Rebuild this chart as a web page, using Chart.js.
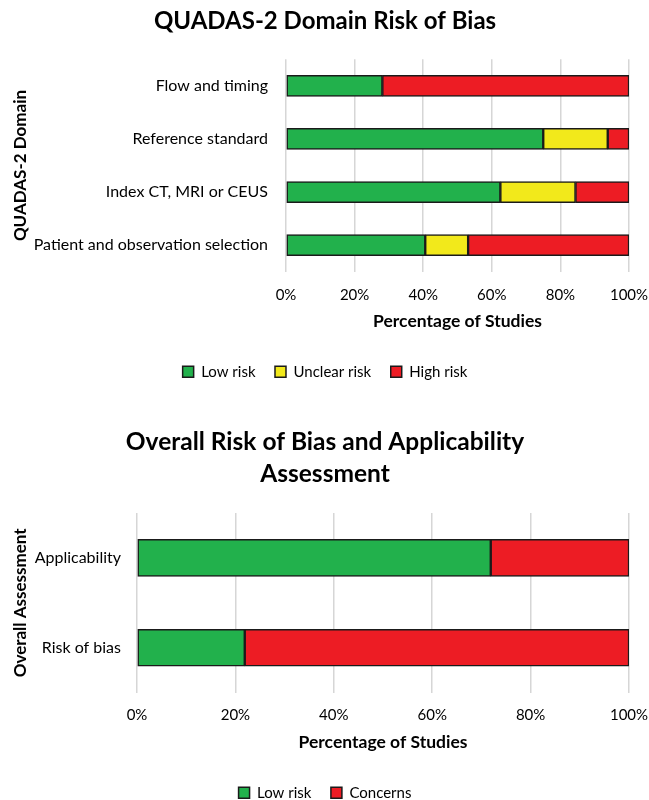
<!DOCTYPE html>
<html>
<head>
<meta charset="utf-8">
<script src="https://cdn.jsdelivr.net/npm/chart.js@4/dist/chart.umd.min.js"></script>
<style>
  html, body { margin: 0; padding: 0; background: #fff; overflow: hidden; }
  .panel { position: absolute; left: 0; width: 649px; }
  #top { top: 0; height: 400px; }
  #bottom { top: 400px; height: 411px; }
</style>
</head>
<body>
<div class="panel" id="top"><canvas id="domainChart" width="649" height="400"></canvas></div>
<div class="panel" id="bottom"><canvas id="overallChart" width="649" height="411"></canvas></div>
<script>
// QUADAS-2 domains, percentage of studies per judgement
const domainLabels = ['Flow and timing', 'Reference standard', 'Index CT, MRI or CEUS', 'Patient and observation selection'];
const domainLow = [28.1, 75.0, 62.5, 40.6];
const domainUnclear = [0, 18.8, 21.9, 12.5];
const domainHigh = [71.9, 6.2, 15.6, 46.9];

// Overall assessment, percentage of studies
const overallLabels = ['Applicability', 'Risk of bias'];
const overallLow = [71.9, 21.9];
const overallConcerns = [28.1, 78.1];

// Percentage axis ticks
const pctTicks = [0, 20, 40, 60, 80, 100];

const GREEN = '#22b14c';
const YELLOW = '#f2e91b';
const RED = '#ed1c24';
const EDGE = '#1a1a1a';
const FONT = 'Lato, "Open Sans", sans-serif';
const INK = '#000';

Chart.defaults.font.family = FONT;
Chart.defaults.color = INK;

function barSet(label, data, color, thickness) {
  return {
    label, data,
    backgroundColor: color,
    borderColor: EDGE,
    borderWidth: 1.5,
    borderSkipped: false,
    barThickness: thickness
  };
}

function buildOptions(cfg) {
  return {
    indexAxis: 'y',
    responsive: false,
    animation: false,
    devicePixelRatio: 1,
    layout: { autoPadding: false, padding: { left: 1, right: 0, top: 0, bottom: cfg.padBottom } },
    plugins: {
      title: {
        display: true,
        text: cfg.title,
        color: INK,
        font: { size: cfg.titleSize, weight: 'bold', lineHeight: cfg.titleLine },
        padding: { top: cfg.titlePadTop, bottom: cfg.titlePadBottom }
      },
      legend: {
        position: 'bottom',
        labels: {
          boxWidth: 11, boxHeight: 11, padding: 19.5,
          color: INK,
          font: { size: 15 }
        }
      },
      tooltip: { enabled: false }
    },
    scales: {
      x: {
        stacked: true,
        min: 0, max: 100,
        afterBuildTicks: (s) => { s.ticks = pctTicks.map(v => ({ value: v })); },
        ticks: { callback: (v) => v + '%', padding: cfg.xTickPad, font: { size: 15 }, color: INK, maxRotation: 0 },
        grid: { color: '#d6d6d6', lineWidth: 1.5, drawTicks: false },
        border: { display: false },
        title: {
          display: true, text: 'Percentage of Studies', color: INK,
          font: { size: 17.5, weight: 'bold' }, padding: { top: 0, bottom: 12.5 }
        },
        afterFit: (s) => { s.height = 73; s.paddingLeft = 0; s.paddingRight = 0; }
      },
      y: {
        stacked: true,
        ticks: { padding: cfg.yTickPad, font: { size: 16 }, color: INK },
        grid: { display: false, drawTicks: false },
        border: { display: false },
        title: {
          display: true, text: cfg.yTitle, color: INK,
          font: { size: 17, weight: 'bold' }, padding: { top: 9.3, bottom: 0 }
        },
        afterFit: (s) => { s.width = cfg.yWidth; s.paddingTop = 0; s.paddingBottom = 0; }
      },
      // empty margin on the right of the plot
      yMargin: {
        type: 'category',
        position: 'right',
        ticks: { display: false },
        grid: { display: false, drawTicks: false },
        border: { display: false },
        afterFit: (s) => { s.width = 20; s.paddingTop = 0; s.paddingBottom = 0; }
      }
    }
  };
}

new Chart(document.getElementById('domainChart'), {
  type: 'bar',
  data: {
    labels: domainLabels,
    datasets: [
      barSet('Low risk', domainLow, GREEN, 21),
      barSet('Unclear risk', domainUnclear, YELLOW, 21),
      barSet('High risk', domainHigh, RED, 21)
    ]
  },
  options: buildOptions({
    title: 'QUADAS-2 Domain Risk of Bias',
    titleSize: 24, titleLine: 1.2, titlePadTop: 7.3, titlePadBottom: 23.2,
    yTitle: 'QUADAS-2 Domain', yWidth: 285, yTickPad: 18, xTickPad: 14.3,
    padBottom: 10.8
  })
});

new Chart(document.getElementById('overallChart'), {
  type: 'bar',
  data: {
    labels: overallLabels,
    datasets: [
      barSet('Low risk', overallLow, GREEN, 37),
      barSet('Concerns', overallConcerns, RED, 37)
    ]
  },
  options: buildOptions({
    title: ['Overall Risk of Bias and Applicability', 'Assessment'],
    titleSize: 24.5, titleLine: 1.294, titlePadTop: 26.45, titlePadBottom: 23.15,
    yTitle: 'Overall Assessment', yWidth: 136, yTickPad: 16, xTickPad: 13.3,
    padBottom: 0.8
  })
});
</script>
</body>
</html>
